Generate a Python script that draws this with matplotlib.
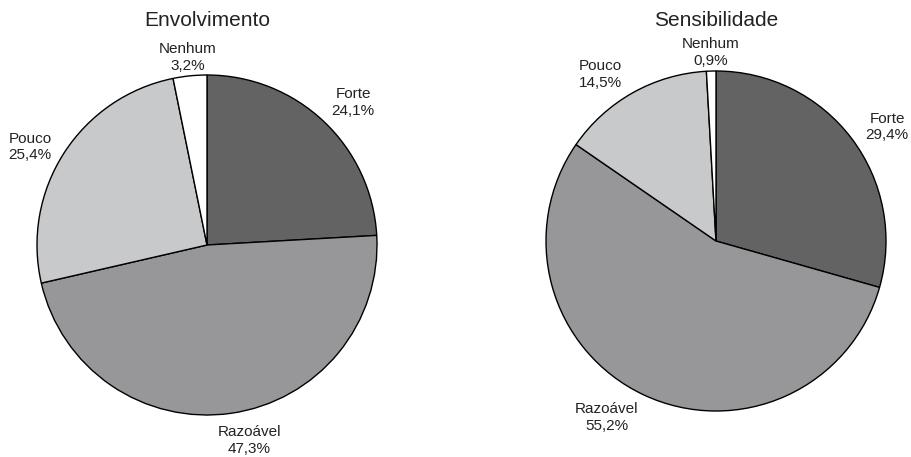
import matplotlib.pyplot as plt
import numpy as np

plt.rcParams['font.family'] = ['Liberation Sans', 'DejaVu Sans']

categorias = ['Forte', 'Razoável', 'Pouco', 'Nenhum']
envolvimento = [24.1, 47.3, 25.4, 3.2]
sensibilidade = [29.4, 55.2, 14.5, 0.9]
cores = ['#636363', '#97979a', '#c8c9ca', '#ffffff']


def pizza(ax, valores, titulo, dist, desvio, titulo_y):
    wedges, texts = ax.pie(valores, colors=cores, startangle=90, counterclock=False,
                           labels=[f'{c}\n{str(v).replace(".", ",")}%' for c, v in zip(categorias, valores)],
                           labeldistance=1.2,
                           wedgeprops=dict(edgecolor='black', linewidth=1.0),
                           textprops=dict(fontsize=11, color='#222222', linespacing=1.25))
    # posição dos rótulos: distância e pequeno desvio angular como no original
    for w, t, d, a in zip(wedges, texts, dist, desvio):
        ang = np.deg2rad((w.theta1 + w.theta2) / 2 + a)
        t.set_position((d * np.cos(ang), d * np.sin(ang)))
        t.set_ha('center')
        t.set_va('center')
        t.set_multialignment('center')
    ax.set_xlim(-1, 1)
    ax.set_ylim(-1, 1)
    ax.set_aspect('equal')
    ax.text(0, titulo_y, titulo, ha='center', va='center', fontsize=15, color='#222222')


fig = plt.figure(figsize=(9.12, 4.57), dpi=100)
W, H = 912, 457
r = 170
ax1 = fig.add_axes([(207 - r) / W, (H - 245 - r) / H, 2 * r / W, 2 * r / H])
ax2 = fig.add_axes([(716 - r) / W, (H - 241 - r) / H, 2 * r / W, 2 * r / H])
for ax in (ax1, ax2):
    ax.axis('off')

pizza(ax1, envolvimento, 'Envolvimento', [1.2, 1.175, 1.19, 1.11], [-2.4, 4.1, 3.8, 0], 1.32)
pizza(ax2, sensibilidade, 'Sensibilidade', [1.21, 1.22, 1.19, 1.11], [-3.4, -6.6, 5.4, 0], 1.3)

fig.savefig('out.png', dpi=100)
